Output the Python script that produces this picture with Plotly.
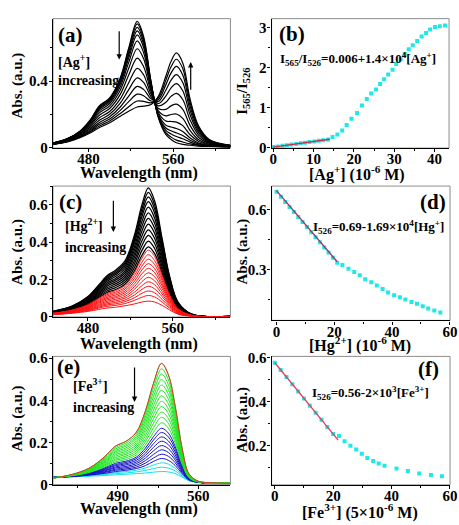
import plotly.graph_objects as go

W, H = 459, 525
FONT = "Liberation Serif"

# ---------------- Panel (a): Ag+ titration spectra ----------------
WL_A = [447, 460, 472, 482, 490, 500, 510, 518, 526, 532, 539, 546, 553, 558, 563, 569, 576, 584, 594, 614]
SPEC_A = [
    [0.030, 0.055, 0.100, 0.170, 0.250, 0.300, 0.420, 0.600, 0.760, 0.670, 0.400, 0.180, 0.080, 0.050, 0.030, 0.020, 0.015, 0.010, 0.008, 0.005],
    [0.030, 0.054, 0.099, 0.168, 0.246, 0.296, 0.413, 0.589, 0.745, 0.657, 0.396, 0.184, 0.091, 0.064, 0.046, 0.035, 0.023, 0.014, 0.009, 0.005],
    [0.029, 0.054, 0.097, 0.164, 0.241, 0.290, 0.404, 0.573, 0.724, 0.641, 0.390, 0.189, 0.105, 0.083, 0.068, 0.054, 0.034, 0.018, 0.011, 0.006],
    [0.029, 0.053, 0.096, 0.161, 0.236, 0.284, 0.395, 0.558, 0.703, 0.624, 0.385, 0.194, 0.119, 0.102, 0.089, 0.074, 0.045, 0.023, 0.013, 0.006],
    [0.028, 0.052, 0.094, 0.157, 0.229, 0.276, 0.383, 0.539, 0.678, 0.603, 0.378, 0.201, 0.136, 0.125, 0.116, 0.098, 0.059, 0.029, 0.015, 0.007],
    [0.028, 0.050, 0.091, 0.152, 0.220, 0.266, 0.367, 0.513, 0.642, 0.573, 0.368, 0.210, 0.161, 0.158, 0.154, 0.133, 0.078, 0.038, 0.018, 0.007],
    [0.027, 0.049, 0.087, 0.144, 0.208, 0.252, 0.346, 0.478, 0.595, 0.536, 0.355, 0.222, 0.192, 0.200, 0.203, 0.177, 0.103, 0.048, 0.021, 0.008],
    [0.026, 0.046, 0.083, 0.136, 0.194, 0.236, 0.321, 0.437, 0.539, 0.489, 0.340, 0.236, 0.231, 0.252, 0.262, 0.231, 0.133, 0.062, 0.026, 0.009],
    [0.025, 0.044, 0.078, 0.126, 0.179, 0.218, 0.294, 0.391, 0.477, 0.439, 0.323, 0.252, 0.273, 0.309, 0.327, 0.290, 0.166, 0.076, 0.031, 0.011],
    [0.023, 0.042, 0.074, 0.117, 0.164, 0.201, 0.268, 0.349, 0.420, 0.393, 0.308, 0.266, 0.311, 0.360, 0.386, 0.343, 0.197, 0.089, 0.036, 0.012],
    [0.022, 0.040, 0.070, 0.109, 0.151, 0.186, 0.245, 0.311, 0.369, 0.351, 0.294, 0.279, 0.346, 0.407, 0.440, 0.392, 0.224, 0.101, 0.040, 0.013],
    [0.022, 0.038, 0.066, 0.102, 0.140, 0.173, 0.225, 0.277, 0.322, 0.313, 0.281, 0.290, 0.378, 0.450, 0.489, 0.437, 0.249, 0.112, 0.044, 0.014],
    [0.021, 0.036, 0.063, 0.096, 0.129, 0.161, 0.206, 0.247, 0.281, 0.279, 0.270, 0.301, 0.406, 0.487, 0.532, 0.476, 0.271, 0.122, 0.047, 0.014],
    [0.020, 0.035, 0.060, 0.090, 0.120, 0.150, 0.190, 0.220, 0.245, 0.250, 0.260, 0.310, 0.430, 0.520, 0.570, 0.510, 0.290, 0.130, 0.050, 0.015],
]

# ---------------- Panel (b): ratio vs [Ag+] ----------------
AG_CONC = [0, 1.1, 2.3, 3.4, 4.5, 5.7, 6.8, 7.9, 9.0, 10.2, 11.3, 12.4, 13.6,
           14.7, 15.9, 17.1, 18.2, 19.4, 20.8, 22.0, 23.2, 24.3, 25.5, 26.5, 27.5, 28.5,
           29.6, 30.5, 31.6, 32.6, 33.6, 34.6, 35.7, 36.8, 37.9, 38.9, 40.1, 41.3, 42.6]
AG_RATIO = [0.006, 0.022, 0.038, 0.054, 0.070, 0.086, 0.101, 0.117, 0.132, 0.148, 0.164, 0.180, 0.197,
            0.26, 0.32, 0.42, 0.56, 0.72, 0.86, 1.05, 1.21, 1.35, 1.45, 1.59, 1.71, 1.83,
            1.95, 2.09, 2.21, 2.34, 2.46, 2.56, 2.67, 2.78, 2.87, 2.96, 3.02, 3.04, 3.06]
AG_FIT_X = [0, 14]
AG_FIT_Y = [0.006, 0.202]

# ---------------- Panel (c): Hg2+ titration spectra ----------------
WL_C = [447, 465, 480, 490, 498, 506, 515, 524, 531, 537, 543, 550, 557, 565, 578, 614]
SPEC_C_BLACK = [
    [0.030, 0.058, 0.110, 0.170, 0.220, 0.250, 0.300, 0.440, 0.600, 0.690, 0.620, 0.420, 0.220, 0.080, 0.015, 0.003],
    [0.029, 0.057, 0.107, 0.165, 0.213, 0.242, 0.290, 0.425, 0.579, 0.666, 0.598, 0.406, 0.213, 0.077, 0.015, 0.003],
    [0.029, 0.055, 0.104, 0.160, 0.206, 0.234, 0.281, 0.410, 0.558, 0.642, 0.577, 0.391, 0.205, 0.075, 0.014, 0.003],
    [0.028, 0.053, 0.100, 0.154, 0.199, 0.226, 0.271, 0.396, 0.538, 0.617, 0.555, 0.377, 0.198, 0.072, 0.014, 0.003],
    [0.027, 0.052, 0.096, 0.148, 0.191, 0.216, 0.259, 0.377, 0.512, 0.587, 0.528, 0.359, 0.189, 0.069, 0.013, 0.003],
    [0.026, 0.050, 0.092, 0.141, 0.182, 0.206, 0.247, 0.359, 0.486, 0.557, 0.501, 0.341, 0.180, 0.066, 0.013, 0.003],
    [0.025, 0.048, 0.088, 0.135, 0.174, 0.197, 0.235, 0.340, 0.460, 0.527, 0.474, 0.323, 0.171, 0.062, 0.012, 0.003],
    [0.024, 0.046, 0.084, 0.128, 0.165, 0.187, 0.223, 0.322, 0.434, 0.496, 0.447, 0.305, 0.162, 0.059, 0.012, 0.002],
    [0.023, 0.044, 0.080, 0.122, 0.156, 0.177, 0.211, 0.303, 0.408, 0.466, 0.420, 0.288, 0.153, 0.056, 0.011, 0.002],
    [0.022, 0.042, 0.076, 0.115, 0.148, 0.167, 0.199, 0.285, 0.382, 0.436, 0.393, 0.270, 0.144, 0.053, 0.010, 0.002],
    [0.022, 0.040, 0.072, 0.109, 0.139, 0.157, 0.187, 0.266, 0.356, 0.406, 0.366, 0.252, 0.135, 0.049, 0.010, 0.002],
    [0.021, 0.038, 0.068, 0.102, 0.131, 0.147, 0.175, 0.248, 0.330, 0.375, 0.339, 0.234, 0.125, 0.046, 0.009, 0.002],
]
SPEC_C_RED = [
    [0.020, 0.037, 0.066, 0.099, 0.125, 0.141, 0.168, 0.237, 0.314, 0.357, 0.323, 0.223, 0.120, 0.044, 0.009, 0.002],
    [0.019, 0.036, 0.063, 0.093, 0.119, 0.133, 0.158, 0.222, 0.293, 0.333, 0.301, 0.209, 0.113, 0.042, 0.009, 0.002],
    [0.019, 0.034, 0.060, 0.088, 0.112, 0.125, 0.149, 0.207, 0.272, 0.309, 0.280, 0.195, 0.105, 0.039, 0.008, 0.002],
    [0.018, 0.033, 0.056, 0.083, 0.105, 0.117, 0.139, 0.192, 0.252, 0.285, 0.258, 0.180, 0.098, 0.036, 0.008, 0.002],
    [0.017, 0.031, 0.053, 0.078, 0.098, 0.109, 0.130, 0.177, 0.231, 0.260, 0.237, 0.166, 0.091, 0.034, 0.007, 0.002],
    [0.017, 0.030, 0.050, 0.073, 0.091, 0.102, 0.120, 0.163, 0.210, 0.236, 0.215, 0.152, 0.084, 0.031, 0.007, 0.002],
    [0.016, 0.028, 0.047, 0.067, 0.084, 0.094, 0.110, 0.148, 0.189, 0.212, 0.193, 0.137, 0.076, 0.029, 0.006, 0.001],
    [0.015, 0.027, 0.044, 0.062, 0.077, 0.086, 0.101, 0.133, 0.168, 0.188, 0.172, 0.123, 0.069, 0.026, 0.006, 0.001],
    [0.014, 0.025, 0.040, 0.057, 0.070, 0.078, 0.091, 0.118, 0.148, 0.164, 0.150, 0.109, 0.062, 0.023, 0.005, 0.001],
    [0.014, 0.023, 0.037, 0.052, 0.064, 0.070, 0.082, 0.103, 0.127, 0.139, 0.129, 0.094, 0.054, 0.021, 0.005, 0.001],
    [0.013, 0.022, 0.034, 0.047, 0.057, 0.062, 0.072, 0.089, 0.106, 0.115, 0.107, 0.080, 0.047, 0.018, 0.005, 0.001],
    [0.012, 0.020, 0.030, 0.040, 0.048, 0.052, 0.060, 0.070, 0.080, 0.085, 0.080, 0.062, 0.038, 0.015, 0.004, 0.001],
]

# ---------------- Panel (d): I526 vs [Hg2+] ----------------
HG_CONC = [0, 1.5, 3, 4.5, 6, 7.5, 9, 10.5, 12, 13.5, 15, 16.5, 18, 19.5, 21,
           22.8, 24.9, 26.9, 28.8, 30.7, 32.8, 34.7, 36.7, 38.6, 40.7, 42.7, 44.6,
           46.7, 48.6, 50.6, 52.5, 54.6, 56.7]
HG_ABS = [0.690, 0.665, 0.639, 0.614, 0.589, 0.563, 0.538, 0.513, 0.487, 0.462, 0.437, 0.411, 0.386, 0.360, 0.335,
          0.324, 0.305, 0.289, 0.272, 0.253, 0.237, 0.221, 0.204, 0.186, 0.172, 0.162, 0.151,
          0.139, 0.130, 0.118, 0.107, 0.097, 0.086]
HG_FIT_X = [0, 21]
HG_FIT_Y = [0.695, 0.34]

# ---------------- Panel (e): Fe3+ titration spectra ----------------
WL_E = [434, 450, 465, 478, 488, 497, 506, 514, 521, 528, 534, 540, 546, 552, 560, 575, 588]
SPEC_E_GREEN = [
    [0.031, 0.048, 0.078, 0.130, 0.183, 0.205, 0.248, 0.350, 0.480, 0.575, 0.520, 0.370, 0.170, 0.050, 0.016, 0.008, 0.006],
    [0.031, 0.047, 0.076, 0.126, 0.176, 0.197, 0.238, 0.335, 0.459, 0.549, 0.497, 0.354, 0.163, 0.048, 0.016, 0.008, 0.006],
    [0.031, 0.047, 0.074, 0.121, 0.169, 0.189, 0.228, 0.321, 0.438, 0.524, 0.474, 0.338, 0.157, 0.047, 0.015, 0.008, 0.006],
    [0.032, 0.046, 0.072, 0.117, 0.162, 0.182, 0.219, 0.306, 0.417, 0.498, 0.451, 0.322, 0.150, 0.045, 0.015, 0.008, 0.006],
    [0.032, 0.046, 0.070, 0.113, 0.156, 0.174, 0.209, 0.291, 0.396, 0.472, 0.428, 0.306, 0.143, 0.044, 0.015, 0.008, 0.006],
    [0.032, 0.045, 0.069, 0.108, 0.149, 0.166, 0.199, 0.276, 0.375, 0.447, 0.405, 0.291, 0.136, 0.042, 0.015, 0.008, 0.006],
    [0.032, 0.045, 0.067, 0.104, 0.142, 0.158, 0.189, 0.262, 0.354, 0.421, 0.382, 0.275, 0.130, 0.040, 0.014, 0.007, 0.006],
    [0.032, 0.044, 0.065, 0.100, 0.135, 0.150, 0.179, 0.247, 0.333, 0.395, 0.359, 0.259, 0.123, 0.039, 0.014, 0.007, 0.006],
    [0.033, 0.044, 0.063, 0.095, 0.128, 0.143, 0.170, 0.232, 0.312, 0.370, 0.336, 0.243, 0.116, 0.037, 0.014, 0.007, 0.006],
    [0.033, 0.043, 0.061, 0.091, 0.121, 0.135, 0.160, 0.217, 0.291, 0.344, 0.313, 0.227, 0.109, 0.036, 0.013, 0.007, 0.006],
    [0.033, 0.043, 0.059, 0.087, 0.115, 0.127, 0.150, 0.203, 0.270, 0.319, 0.290, 0.211, 0.103, 0.034, 0.013, 0.007, 0.006],
    [0.033, 0.042, 0.057, 0.082, 0.108, 0.119, 0.140, 0.188, 0.248, 0.293, 0.267, 0.195, 0.096, 0.032, 0.013, 0.007, 0.005],
]
SPEC_E_BLUE = [
    [0.033, 0.041, 0.055, 0.078, 0.101, 0.111, 0.130, 0.173, 0.227, 0.267, 0.244, 0.179, 0.089, 0.031, 0.012, 0.007, 0.005],
    [0.034, 0.041, 0.054, 0.074, 0.095, 0.105, 0.123, 0.161, 0.211, 0.247, 0.226, 0.167, 0.084, 0.030, 0.012, 0.007, 0.005],
    [0.034, 0.041, 0.052, 0.071, 0.090, 0.099, 0.115, 0.149, 0.194, 0.226, 0.207, 0.154, 0.078, 0.028, 0.012, 0.007, 0.005],
    [0.034, 0.040, 0.051, 0.067, 0.084, 0.093, 0.107, 0.138, 0.177, 0.206, 0.189, 0.141, 0.073, 0.027, 0.012, 0.007, 0.005],
    [0.034, 0.040, 0.049, 0.064, 0.079, 0.086, 0.099, 0.126, 0.160, 0.185, 0.170, 0.128, 0.067, 0.026, 0.011, 0.007, 0.005],
    [0.034, 0.039, 0.048, 0.060, 0.073, 0.080, 0.091, 0.114, 0.143, 0.165, 0.152, 0.116, 0.062, 0.024, 0.011, 0.006, 0.005],
    [0.034, 0.039, 0.046, 0.057, 0.068, 0.074, 0.083, 0.102, 0.126, 0.144, 0.134, 0.103, 0.057, 0.023, 0.011, 0.006, 0.005],
    [0.035, 0.038, 0.045, 0.053, 0.062, 0.068, 0.076, 0.090, 0.110, 0.124, 0.115, 0.090, 0.051, 0.022, 0.011, 0.006, 0.005],
]
SPEC_E_CYAN = [
    [0.035, 0.038, 0.043, 0.050, 0.057, 0.062, 0.068, 0.079, 0.093, 0.103, 0.097, 0.077, 0.046, 0.021, 0.011, 0.006, 0.005],
    [0.035, 0.037, 0.042, 0.047, 0.052, 0.055, 0.060, 0.067, 0.076, 0.083, 0.078, 0.065, 0.040, 0.019, 0.010, 0.006, 0.005],
    [0.035, 0.037, 0.040, 0.043, 0.046, 0.049, 0.052, 0.055, 0.059, 0.062, 0.060, 0.052, 0.035, 0.018, 0.010, 0.006, 0.005],
]

# ---------------- Panel (f): I526 vs [Fe3+] ----------------
FE_CONC = [0, 2, 4, 6, 8, 10, 12, 14, 16, 18, 20,
           22.0, 23.9, 25.9, 27.9, 29.8, 31.7, 33.7, 35.6, 37.6, 41.7, 45.6, 49.5, 53.5, 57.3]
FE_ABS = [0.578, 0.545, 0.513, 0.480, 0.447, 0.415, 0.382, 0.350, 0.318, 0.285, 0.253,
          0.244, 0.220, 0.200, 0.182, 0.163, 0.144, 0.130, 0.119, 0.108, 0.096, 0.084, 0.073, 0.066, 0.060]
FE_FIT_X = [0, 21.7]
FE_FIT_Y = [0.578, 0.225]

# ================= figure =================
fig = go.Figure()


def dx(a, b):
    return [a / W, b / W]


def dy(top, bottom):
    return [1 - bottom / H, 1 - top / H]


TICKFONT = dict(family=FONT, size=15, color="black", weight="bold")


def make_axis(domain, rng, tick0, dtick, minor_dtick, anchor, standoff):
    return dict(domain=domain, range=rng, anchor=anchor, showline=True, linecolor="black",
                linewidth=1.3, mirror=False, ticks="outside", ticklen=3, tickwidth=1,
                tickcolor="black", tick0=tick0, dtick=dtick, tickfont=TICKFONT,
                ticklabelstandoff=standoff, ticklabeloverflow="allow",
                showgrid=False, zeroline=False, fixedrange=True,
                minor=dict(ticks="outside", ticklen=2, tickwidth=1, tickcolor="black",
                           dtick=minor_dtick, showgrid=False))


XS, YS = -6, -2
layout_axes = {
    "xaxis": make_axis(dx(52, 233), [446.5, 614], 480, 80, 40, "y", XS),
    "yaxis": make_axis(dy(13, 146), [-0.002, 0.776], 0, 0.4, 0.2, "x", YS),
    "xaxis2": make_axis(dx(275, 456), [-0.4, 43.6], 0, 10, 5, "y2", XS),
    "yaxis2": make_axis(dy(13, 146), [-0.02, 3.23], 0, 1, 0.5, "x2", YS),
    "xaxis3": make_axis(dx(52, 233), [447, 614.5], 480, 80, 40, "y3", XS),
    "yaxis3": make_axis(dy(185, 319.5), [0, 0.70], 0, 0.2, 0.1, "x3", YS),
    "xaxis4": make_axis(dx(275, 457), [-1.7, 60.05], 0, 20, 10, "y4", XS),
    "yaxis4": make_axis(dy(185, 323), [0.047, 0.718], 0, 0.3, 0.15, "x4", YS),
    "xaxis5": make_axis(dx(52, 233), [433.5, 588], 490, 70, 35, "y5", XS),
    "yaxis5": make_axis(dy(360, 491.7), [0, 0.608], 0, 0.2, 0.1, "x5", YS),
    "xaxis6": make_axis(dx(275, 457), [-1.1, 60.05], 0, 20, 10, "y6", XS),
    "yaxis6": make_axis(dy(360, 492), [0.021, 0.607], 0, 0.2, 0.1, "x6", YS),
}

SPL = dict(shape="spline", smoothing=1.0)

# (a)
for s in SPEC_A:
    fig.add_trace(go.Scatter(x=WL_A, y=s, mode="lines", line=dict(color="black", width=1.2, **SPL),
                             xaxis="x", yaxis="y", showlegend=False, hoverinfo="skip"))
# (b)
fig.add_trace(go.Scatter(x=AG_CONC, y=AG_RATIO, mode="markers",
                         marker=dict(symbol="square", size=4, color="#1ee8e8"),
                         xaxis="x2", yaxis="y2", showlegend=False, hoverinfo="skip"))
fig.add_trace(go.Scatter(x=AG_FIT_X, y=AG_FIT_Y, mode="lines", line=dict(color="#c8304a", width=1.3),
                         xaxis="x2", yaxis="y2", showlegend=False, hoverinfo="skip"))
# (c)
for s in SPEC_C_BLACK:
    fig.add_trace(go.Scatter(x=WL_C, y=s, mode="lines", line=dict(color="black", width=1.3, **SPL),
                             xaxis="x3", yaxis="y3", showlegend=False, hoverinfo="skip"))
for s in SPEC_C_RED:
    fig.add_trace(go.Scatter(x=WL_C, y=s, mode="lines", line=dict(color="#ff1010", width=1, **SPL),
                             xaxis="x3", yaxis="y3", showlegend=False, hoverinfo="skip"))
# (d)
fig.add_trace(go.Scatter(x=HG_CONC, y=HG_ABS, mode="markers",
                         marker=dict(symbol="square", size=4, color="#1ee8e8"),
                         xaxis="x4", yaxis="y4", showlegend=False, hoverinfo="skip"))
fig.add_trace(go.Scatter(x=HG_FIT_X, y=HG_FIT_Y, mode="lines", line=dict(color="#a03060", width=1.3),
                         xaxis="x4", yaxis="y4", showlegend=False, hoverinfo="skip"))
# (e)
for s in SPEC_E_CYAN:
    fig.add_trace(go.Scatter(x=WL_E, y=s, mode="lines", line=dict(color="#12e0ee", width=1, **SPL),
                             xaxis="x5", yaxis="y5", showlegend=False, hoverinfo="skip"))
for s in SPEC_E_BLUE:
    fig.add_trace(go.Scatter(x=WL_E, y=s, mode="lines", line=dict(color="#1414c8", width=1, **SPL),
                             xaxis="x5", yaxis="y5", showlegend=False, hoverinfo="skip"))
for s in SPEC_E_GREEN:
    fig.add_trace(go.Scatter(x=WL_E, y=s, mode="lines", line=dict(color="#1ee61e", width=1, **SPL),
                             xaxis="x5", yaxis="y5", showlegend=False, hoverinfo="skip"))
fig.add_trace(go.Scatter(x=WL_E, y=SPEC_E_GREEN[0], mode="lines", line=dict(color="#e83030", width=1, **SPL),
                         xaxis="x5", yaxis="y5", showlegend=False, hoverinfo="skip"))
# (f)
fig.add_trace(go.Scatter(x=FE_CONC, y=FE_ABS, mode="markers",
                         marker=dict(symbol="square", size=4, color="#1ee8e8"),
                         xaxis="x6", yaxis="y6", showlegend=False, hoverinfo="skip"))
fig.add_trace(go.Scatter(x=FE_FIT_X, y=FE_FIT_Y, mode="lines", line=dict(color="#e0405a", width=1.3),
                         xaxis="x6", yaxis="y6", showlegend=False, hoverinfo="skip"))

# gray frames (top / right)
shapes = []
for k in ["", "2", "3", "4", "5", "6"]:
    shapes.append(dict(type="rect", xref="x%s domain" % k, yref="y%s domain" % k,
                       x0=0, x1=1, y0=0, y1=1, line=dict(color="#8c8c8c", width=1), layer="below"))

anns = []


def txt(text, x, y, size, xanchor="left", angle=0):
    anns.append(dict(text=text, x=x / W, y=1 - y / H, xref="paper", yref="paper",
                     xanchor=xanchor, yanchor="middle", showarrow=False, textangle=angle,
                     font=dict(family=FONT, size=size, color="black")))


# panel labels
txt("<b>(a)</b>", 55, 30, 21)
txt("<b>[Ag<sup>+</sup>]</b>", 55, 57, 14)
txt("<b>increasing</b>", 55, 77, 14)
txt("<b>(b)</b>", 281, 29, 21)
txt("<b>I<sub>565</sub>/I<sub>526</sub>=0.006+1.4×10<sup>4</sup>[Ag<sup>+</sup>]</b>", 282, 54, 13)
txt("<b>(c)</b>", 56, 201, 21)
txt("<b>[Hg<sup>2+</sup>]</b>", 62, 225, 14)
txt("<b>increasing</b>", 62, 248, 14)
txt("<b>(d)</b>", 455, 201, 21, "right")
txt("<b>I<sub>526</sub>=0.69-1.69×10<sup>4</sup>[Hg<sup>+</sup>]</b>", 453, 227, 13, "right")
txt("<b>(e)</b>", 54, 371, 21)
txt("<b>[Fe<sup>3+</sup>]</b>", 70, 389, 14)
txt("<b>increasing</b>", 70, 413, 14)
txt("<b>(f)</b>", 448, 373, 21, "right")
txt("<b>I<sub>526</sub>=0.56-2×10<sup>3</sup>[Fe<sup>3+</sup>]</b>", 438, 398, 13, "right")

# axis titles
txt("<b>Wavelength (nm)</b>", 140, 172, 16, "center")
txt("<b>Wavelength (nm)</b>", 140, 347, 16, "center")
txt("<b>Wavelength (nm)</b>", 140, 517, 16, "center")
txt("<b>[Ag<sup>+</sup>] (10<sup>-6</sup> M)</b>", 362, 172, 16, "center")
txt("<b>[Hg<sup>2+</sup>] (10<sup>-6</sup> M)</b>", 365, 348, 16, "center")
txt("<b>[Fe<sup>3+</sup>] (5×10<sup>-6</sup> M)</b>", 365, 519, 16, "center")
txt("<b>Abs. (a.u.)</b>", 16, 82, 15, "center", -90)
txt("<b>I<sub>565</sub>/I<sub>526</sub></b>", 245, 88, 15, "center", -90)
txt("<b>Abs. (a.u.)</b>", 16, 253, 15, "center", -90)
txt("<b>Abs. (a.u.)</b>", 245, 252, 15, "center", -90)
txt("<b>Abs. (a.u.)</b>", 16, 424, 15, "center", -90)
txt("<b>Abs. (a.u.)</b>", 245, 425, 15, "center", -90)


def arrow(xr, yr, x, y_head, y_tail):
    anns.append(dict(x=x, y=y_head, ax=x, ay=y_tail, xref=xr, yref=yr, axref=xr, ayref=yr,
                     text="", showarrow=True, arrowhead=2, arrowsize=0.9, arrowwidth=1.2,
                     arrowcolor="black"))


arrow("x", "y", 509, 0.53, 0.71)
arrow("x", "y", 576.5, 0.515, 0.34)
arrow("x3", "y3", 504, 0.455, 0.63)
arrow("x5", "y5", 504.5, 0.392, 0.562)

fig.update_layout(width=W, height=H, margin=dict(l=0, r=0, t=0, b=0),
                  paper_bgcolor="white", plot_bgcolor="white",
                  shapes=shapes, annotations=anns, showlegend=False, **layout_axes)

fig.write_html("out.html", config={"displayModeBar": False},
               post_script="document.body.style.margin='0';document.body.style.overflow='hidden';")
